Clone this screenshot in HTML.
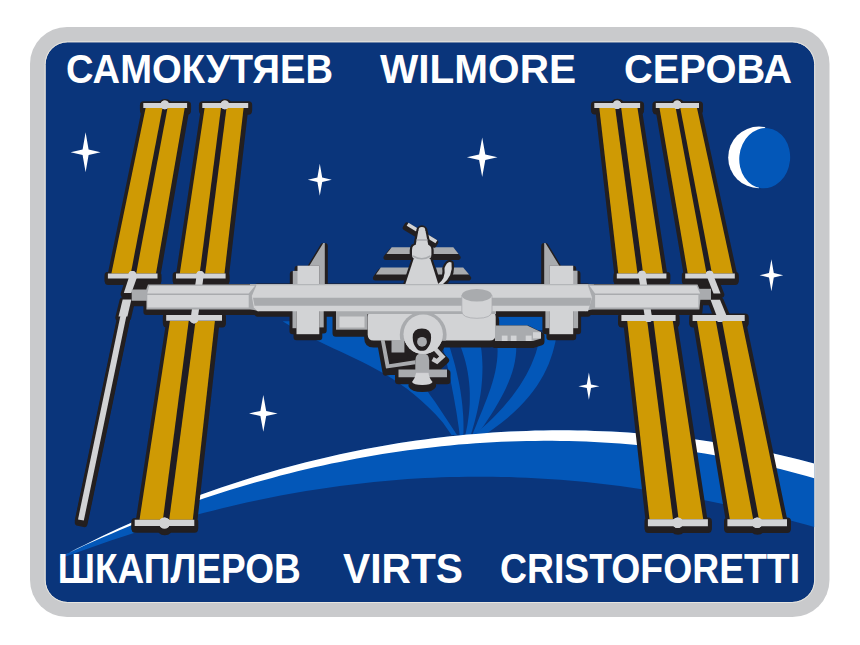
<!DOCTYPE html>
<html><head><meta charset="utf-8"><title>Expedition 42</title>
<style>
html,body{margin:0;padding:0;background:#fff;}
svg{display:block}
text{font-family:"Liberation Sans",sans-serif;font-weight:bold;fill:#fff}
</style></head><body>
<svg width="860" height="645" viewBox="0 0 860 645">
<rect width="860" height="645" fill="#fff"/>
<rect x="30" y="27" width="799.5" height="590" rx="37" fill="#c9cacc"/>
<rect x="45.6" y="42.3" width="768.6" height="559.7" rx="22" fill="#0a357b"/>
<rect x="45.1" y="41.8" width="769.6" height="560.7" rx="22.5" fill="none" stroke="#e6e5e0" stroke-width="1"/>
<clipPath id="inner"><rect x="45.6" y="42.3" width="768.6" height="559.7" rx="22"/></clipPath>
<g clip-path="url(#inner)">
<path d="M282.6,321.3 L289.9,325.7 L297.2,330.0 L304.5,334.1 L311.8,337.9 L319.1,341.6 L326.3,345.1 L333.6,348.5 L340.9,351.8 L348.2,355.2 L355.5,358.7 L362.8,362.2 L370.1,365.9 L377.4,369.9 L384.7,374.0 L392.0,378.5 L399.3,383.4 L406.6,388.6 L413.8,394.3 L421.1,400.5 L428.4,407.3 L435.7,414.6 L443.0,422.7 L451.5,435.0 L457.0,435.0 L444.8,416.4 L435.0,401.7 L430.0,395.0 L426.5,389.5 L418.0,372.0 L447.0,345.0 L447.0,321.3 L282.6,321.3Z" fill="#0357b8"/>
<path d="M441.1,340.0 L442.4,345.1 L443.6,350.1 L444.9,355.2 L446.1,360.2 L447.2,365.3 L448.4,370.3 L449.5,375.4 L450.5,380.4 L451.6,385.5 L452.5,390.5 L453.5,395.6 L454.4,400.6 L455.3,405.7 L456.2,410.7 L457.0,415.8 L457.7,420.8 L458.5,425.9 L459.2,430.9 L459.8,436.0 L463.3,436.0 L463.5,430.9 L463.5,425.9 L463.4,420.8 L463.2,415.8 L462.8,410.7 L462.4,405.7 L461.8,400.6 L461.1,395.6 L460.4,390.5 L459.5,385.5 L458.5,380.4 L457.4,375.4 L456.2,370.3 L455.0,365.3 L453.6,360.2 L452.1,355.2 L450.6,350.1 L448.9,345.1 L447.2,340.0Z" fill="#0357b8"/>
<path d="M455.8,335.0 L458.2,340.3 L460.3,345.6 L462.2,350.9 L463.9,356.3 L465.4,361.6 L466.7,366.9 L467.7,372.2 L468.5,377.5 L469.1,382.8 L469.6,388.2 L469.8,393.5 L469.8,398.8 L469.7,404.1 L469.3,409.4 L468.8,414.7 L468.1,420.1 L467.3,425.4 L466.2,430.7 L465.1,436.0 L470.4,436.0 L472.1,430.7 L473.6,425.4 L475.1,420.1 L476.4,414.7 L477.6,409.4 L478.7,404.1 L479.7,398.8 L480.6,393.5 L481.3,388.2 L481.8,382.8 L482.2,377.5 L482.4,372.2 L482.5,366.9 L482.3,361.6 L482.0,356.3 L481.5,350.9 L480.8,345.6 L479.8,340.3 L478.6,335.0Z" fill="#0357b8"/>
<path d="M495.9,335.0 L496.9,340.3 L497.4,345.6 L497.6,350.9 L497.4,356.3 L496.9,361.6 L496.1,366.9 L495.1,372.2 L493.8,377.5 L492.3,382.8 L490.6,388.2 L488.7,393.5 L486.8,398.8 L484.7,404.1 L482.6,409.4 L480.4,414.7 L478.2,420.1 L476.1,425.4 L473.9,430.7 L471.9,436.0 L476.3,436.0 L480.1,430.7 L483.9,425.4 L487.5,420.1 L491.0,414.7 L494.3,409.4 L497.5,404.1 L500.5,398.8 L503.3,393.5 L505.9,388.2 L508.3,382.8 L510.4,377.5 L512.2,372.2 L513.7,366.9 L514.9,361.6 L515.7,356.3 L516.2,350.9 L516.3,345.6 L516.0,340.3 L515.4,335.0Z" fill="#0357b8"/>
<path d="M540.4,332.0 L539.6,337.4 L538.6,342.7 L537.3,348.1 L535.7,353.5 L533.7,358.8 L531.5,364.2 L529.0,369.6 L526.2,374.9 L523.1,380.3 L519.7,385.7 L516.0,391.1 L512.0,396.4 L507.7,401.8 L503.1,407.2 L498.2,412.5 L492.9,417.9 L487.4,423.3 L481.5,428.6 L475.4,434.0 L486.1,434.0 L493.8,428.6 L500.9,423.3 L507.5,417.9 L513.6,412.5 L519.1,407.2 L524.3,401.8 L528.9,396.4 L533.2,391.1 L537.0,385.7 L540.4,380.3 L543.5,374.9 L546.2,369.6 L548.6,364.2 L550.6,358.8 L552.4,353.5 L553.9,348.1 L555.2,342.7 L556.2,337.4 L557.0,332.0Z" fill="#0357b8"/>
<path d="M496.0,317.0 L546.0,317.0 L546.0,330.0 L496.0,330.0Z" fill="#0357b8"/>
<path d="M325.0,315.0 L338.0,315.0 L338.0,324.0 L325.0,324.0Z" fill="#0357b8"/>
<path d="M60.0,557.4 L68.5,553.0 L77.0,548.6 L85.4,544.4 L93.9,540.2 L102.4,536.1 L110.9,532.1 L119.4,528.1 L127.9,524.3 L136.3,520.6 L144.8,516.9 L153.3,513.3 L161.8,509.8 L170.3,506.4 L178.8,503.0 L187.2,499.8 L195.7,496.6 L204.2,493.5 L212.7,490.5 L221.2,487.5 L229.7,484.7 L238.1,481.9 L246.6,479.2 L255.1,476.5 L263.6,474.0 L272.1,471.5 L280.6,469.1 L289.0,466.7 L297.5,464.5 L306.0,462.3 L314.5,460.2 L323.0,458.2 L331.5,456.2 L339.9,454.3 L348.4,452.5 L356.9,450.8 L365.4,449.1 L373.9,447.5 L382.4,446.0 L390.8,444.5 L399.3,443.1 L407.8,441.8 L416.3,440.6 L424.8,439.4 L433.3,438.3 L441.7,437.3 L450.2,436.3 L458.7,435.4 L467.2,434.6 L475.7,433.9 L484.2,433.2 L492.6,432.6 L501.1,432.0 L509.6,431.6 L518.1,431.2 L526.6,430.9 L535.1,430.6 L543.5,430.4 L552.0,430.3 L560.5,430.3 L569.0,430.3 L577.5,430.4 L586.0,430.6 L594.4,430.9 L602.9,431.2 L611.4,431.6 L619.9,432.0 L628.4,432.6 L636.9,433.2 L645.3,433.9 L653.8,434.7 L662.3,435.5 L670.8,436.4 L679.3,437.4 L687.8,438.4 L696.2,439.6 L704.7,440.8 L713.2,442.1 L721.7,443.5 L730.2,444.9 L738.7,446.4 L747.1,448.0 L755.6,449.7 L764.1,451.5 L772.6,453.3 L781.1,455.2 L789.6,457.2 L798.0,459.3 L806.5,461.5 L815.0,463.7 L815.0,527.2 L806.5,524.8 L798.0,522.5 L789.6,520.2 L781.1,518.0 L772.6,515.8 L764.1,513.7 L755.6,511.6 L747.1,509.6 L738.7,507.6 L730.2,505.7 L721.7,503.8 L713.2,502.0 L704.7,500.3 L696.2,498.6 L687.8,496.9 L679.3,495.4 L670.8,493.8 L662.3,492.4 L653.8,491.0 L645.3,489.7 L636.9,488.4 L628.4,487.2 L619.9,486.0 L611.4,485.0 L602.9,483.9 L594.4,483.0 L586.0,482.1 L577.5,481.3 L569.0,480.5 L560.5,479.8 L552.0,479.2 L543.5,478.7 L535.1,478.2 L526.6,477.7 L518.1,477.4 L509.6,477.1 L501.1,476.9 L492.6,476.8 L484.2,476.7 L475.7,476.7 L467.2,476.7 L458.7,476.9 L450.2,477.1 L441.7,477.3 L433.3,477.7 L424.8,478.1 L416.3,478.6 L407.8,479.1 L399.3,479.7 L390.8,480.4 L382.4,481.2 L373.9,482.0 L365.4,482.9 L356.9,483.9 L348.4,484.9 L339.9,486.0 L331.5,487.2 L323.0,488.4 L314.5,489.7 L306.0,491.1 L297.5,492.6 L289.0,494.1 L280.6,495.6 L272.1,497.3 L263.6,499.0 L255.1,500.8 L246.6,502.6 L238.1,504.5 L229.7,506.5 L221.2,508.6 L212.7,510.7 L204.2,512.8 L195.7,515.1 L187.2,517.3 L178.8,519.7 L170.3,522.1 L161.8,524.6 L153.3,527.1 L144.8,529.7 L136.3,532.3 L127.9,535.0 L119.4,537.8 L110.9,540.6 L102.4,543.5 L93.9,546.4 L85.4,549.4 L77.0,552.4 L68.5,555.5 L60.0,558.6Z" fill="#0357b8"/>
<path d="M60.0,557.4 L68.5,553.0 L77.0,548.6 L85.4,544.4 L93.9,540.2 L102.4,536.1 L110.9,532.1 L119.4,528.1 L127.9,524.3 L136.3,520.6 L144.8,516.9 L153.3,513.3 L161.8,509.8 L170.3,506.4 L178.8,503.0 L187.2,499.8 L195.7,496.6 L204.2,493.5 L212.7,490.5 L221.2,487.5 L229.7,484.7 L238.1,481.9 L246.6,479.2 L255.1,476.5 L263.6,474.0 L272.1,471.5 L280.6,469.1 L289.0,466.7 L297.5,464.5 L306.0,462.3 L314.5,460.2 L323.0,458.2 L331.5,456.2 L339.9,454.3 L348.4,452.5 L356.9,450.8 L365.4,449.1 L373.9,447.5 L382.4,446.0 L390.8,444.5 L399.3,443.1 L407.8,441.8 L416.3,440.6 L424.8,439.4 L433.3,438.3 L441.7,437.3 L450.2,436.3 L458.7,435.4 L467.2,434.6 L475.7,433.9 L484.2,433.2 L492.6,432.6 L501.1,432.0 L509.6,431.6 L518.1,431.2 L526.6,430.9 L535.1,430.6 L543.5,430.4 L552.0,430.3 L560.5,430.3 L569.0,430.3 L577.5,430.4 L586.0,430.6 L594.4,430.9 L602.9,431.2 L611.4,431.6 L619.9,432.0 L628.4,432.6 L636.9,433.2 L645.3,433.9 L653.8,434.7 L662.3,435.5 L670.8,436.4 L679.3,437.4 L687.8,438.4 L696.2,439.6 L704.7,440.8 L713.2,442.1 L721.7,443.5 L730.2,444.9 L738.7,446.4 L747.1,448.0 L755.6,449.7 L764.1,451.5 L772.6,453.3 L781.1,455.2 L789.6,457.2 L798.0,459.3 L806.5,461.5 L815.0,463.7 L815.0,478.4 L806.5,476.0 L798.0,473.7 L789.6,471.5 L781.1,469.3 L772.6,467.3 L764.1,465.3 L755.6,463.4 L747.1,461.6 L738.7,459.8 L730.2,458.2 L721.7,456.6 L713.2,455.1 L704.7,453.6 L696.2,452.3 L687.8,451.0 L679.3,449.8 L670.8,448.7 L662.3,447.6 L653.8,446.7 L645.3,445.8 L636.9,445.0 L628.4,444.2 L619.9,443.5 L611.4,442.9 L602.9,442.4 L594.4,442.0 L586.0,441.6 L577.5,441.3 L569.0,441.1 L560.5,440.9 L552.0,440.8 L543.5,440.8 L535.1,440.9 L526.6,441.0 L518.1,441.2 L509.6,441.5 L501.1,441.8 L492.6,442.2 L484.2,442.7 L475.7,443.3 L467.2,443.9 L458.7,444.6 L450.2,445.4 L441.7,446.3 L433.3,447.2 L424.8,448.2 L416.3,449.2 L407.8,450.3 L399.3,451.5 L390.8,452.8 L382.4,454.1 L373.9,455.5 L365.4,457.0 L356.9,458.6 L348.4,460.2 L339.9,461.9 L331.5,463.6 L323.0,465.4 L314.5,467.3 L306.0,469.3 L297.5,471.3 L289.0,473.4 L280.6,475.6 L272.1,477.9 L263.6,480.2 L255.1,482.6 L246.6,485.0 L238.1,487.5 L229.7,490.1 L221.2,492.8 L212.7,495.5 L204.2,498.3 L195.7,501.2 L187.2,504.2 L178.8,507.2 L170.3,510.3 L161.8,513.4 L153.3,516.7 L144.8,520.0 L136.3,523.3 L127.9,526.8 L119.4,530.3 L110.9,533.9 L102.4,537.6 L93.9,541.3 L85.4,545.1 L77.0,549.0 L68.5,553.0 L60.0,557.0Z" fill="#fff"/>
<path d="M85.6,132.3 L88.6,149.6 L100.6,152.3 L88.6,155.0 L85.6,172.3 L82.6,155.0 L70.6,152.3 L82.6,149.6Z" fill="#fff"/>
<path d="M319.8,163.7 L322.2,177.5 L331.8,179.7 L322.2,181.9 L319.8,195.7 L317.4,181.9 L307.8,179.7 L317.4,177.5Z" fill="#fff"/>
<path d="M482.2,137.5 L485.3,154.6 L497.5,157.3 L485.3,160.0 L482.2,177.1 L479.1,160.0 L466.9,157.3 L479.1,154.6Z" fill="#fff"/>
<path d="M771.4,259.3 L773.8,273.1 L783.2,275.3 L773.8,277.5 L771.4,291.3 L769.0,277.5 L759.6,275.3 L769.0,273.1Z" fill="#fff"/>
<path d="M263.3,395.0 L266.2,410.9 L277.6,413.4 L266.2,415.9 L263.3,431.8 L260.4,415.9 L249.0,413.4 L260.4,410.9Z" fill="#fff"/>
<path d="M588.9,372.6 L591.0,384.4 L599.4,386.2 L591.0,388.0 L588.9,399.8 L586.8,388.0 L578.4,386.2 L586.8,384.4Z" fill="#fff"/>
<clipPath id="mc"><rect x="720" y="120" width="42" height="80" transform="rotate(6 762 158)"/></clipPath>
<circle cx="759" cy="157.4" r="30.8" fill="#fff" clip-path="url(#mc)"/>
<ellipse cx="764.7" cy="158.2" rx="25.4" ry="30.2" fill="#0357b8" transform="rotate(6 764.7 158.2)"/>
<path d="M120.9,313.4 L78.0,519.4 L83.8,520.6 L126.7,314.6Z" fill="#231f20" stroke="#231f20" stroke-width="7" stroke-linejoin="round" transform="translate(0.3,3)"/>
<path d="M129.7,275.0 L137.8,275.0 L131.4,293.0 L123.8,293.0Z M122.7,299.5 L131.4,299.5 L127.4,316.5 L118.5,316.5Z M120.9,313.4 L78.0,519.4 L83.8,520.6 L126.7,314.6Z M196.7,274.5 L190.7,318.0 L197.7,319.0 L203.7,275.5Z M638.5,275.5 L645.0,318.5 L652.0,317.5 L645.5,274.5Z M706.3,275.0 L713.3,275.0 L720.5,293.5 L713.5,293.5Z M710.5,299.8 L720.0,299.8 L727.5,318.0 L717.5,318.0Z" fill="#231f20" stroke="#231f20" stroke-width="7" stroke-linejoin="round" transform="translate(0.3,1)"/>
<path d="M143.3,102.9 L187.1,102.9 L187.1,108.0 L143.3,108.0Z M107.9,273.4 L157.5,273.4 L157.5,278.4 L107.9,278.4Z M160.5,104.9a4.3,4.3 0 1,0 8.6,0a4.3,4.3 0 1,0 -8.6,0Z M128.5,274.9a3.8,3.8 0 1,0 7.6,0a3.8,3.8 0 1,0 -7.6,0Z" fill="#231f20" stroke="#231f20" stroke-width="6.5" stroke-linejoin="round" transform="translate(0.3,3.4)"/>
<path d="M145.1,108.0 L185.2,108.0 L156.5,273.4 L110.9,273.4Z M145.6,108.0 L162.5,108.0 L130.8,273.4 L111.4,273.4Z M167.5,108.0 L184.7,108.0 L156.0,273.4 L136.2,273.4Z M143.3,102.9 L187.1,102.9 L187.1,108.0 L143.3,108.0Z M107.9,273.4 L157.5,273.4 L157.5,278.4 L107.9,278.4Z M160.5,104.9a4.3,4.3 0 1,0 8.6,0a4.3,4.3 0 1,0 -8.6,0Z M128.5,274.9a3.8,3.8 0 1,0 7.6,0a3.8,3.8 0 1,0 -7.6,0Z" fill="#231f20" stroke="#231f20" stroke-width="7.4" stroke-linejoin="round" transform="translate(0.3,2.0)"/>
<path d="M202.3,102.9 L248.2,102.9 L248.2,108.0 L202.3,108.0Z M176.0,273.4 L225.6,273.4 L225.6,278.4 L176.0,278.4Z M220.6,104.9a4.3,4.3 0 1,0 8.6,0a4.3,4.3 0 1,0 -8.6,0Z M196.4,274.9a3.8,3.8 0 1,0 7.6,0a3.8,3.8 0 1,0 -7.6,0Z" fill="#231f20" stroke="#231f20" stroke-width="6.5" stroke-linejoin="round" transform="translate(0.3,3.4)"/>
<path d="M204.1,108.0 L244.1,108.0 L225.0,273.4 L179.3,273.4Z M204.6,108.0 L221.0,108.0 L199.7,273.4 L179.8,273.4Z M226.5,108.0 L243.6,108.0 L224.5,273.4 L205.2,273.4Z M202.3,102.9 L248.2,102.9 L248.2,108.0 L202.3,108.0Z M176.0,273.4 L225.6,273.4 L225.6,278.4 L176.0,278.4Z M220.6,104.9a4.3,4.3 0 1,0 8.6,0a4.3,4.3 0 1,0 -8.6,0Z M196.4,274.9a3.8,3.8 0 1,0 7.6,0a3.8,3.8 0 1,0 -7.6,0Z" fill="#231f20" stroke="#231f20" stroke-width="7.4" stroke-linejoin="round" transform="translate(0.3,2.0)"/>
<path d="M594.3,102.9 L640.1,102.9 L640.1,107.9 L594.3,107.9Z M616.8,273.4 L666.4,273.4 L666.4,278.4 L616.8,278.4Z M612.8,104.7a4.3,4.3 0 1,0 8.6,0a4.3,4.3 0 1,0 -8.6,0Z M638.2,274.6a3.8,3.8 0 1,0 7.6,0a3.8,3.8 0 1,0 -7.6,0Z" fill="#231f20" stroke="#231f20" stroke-width="6.5" stroke-linejoin="round" transform="translate(0.3,3.4)"/>
<path d="M598.8,107.9 L638.0,107.9 L663.4,273.4 L617.8,273.4Z M599.3,107.9 L615.2,107.9 L637.5,273.4 L618.3,273.4Z M621.2,107.9 L637.5,107.9 L662.9,273.4 L643.1,273.4Z M594.3,102.9 L640.1,102.9 L640.1,107.9 L594.3,107.9Z M616.8,273.4 L666.4,273.4 L666.4,278.4 L616.8,278.4Z M612.8,104.7a4.3,4.3 0 1,0 8.6,0a4.3,4.3 0 1,0 -8.6,0Z M638.2,274.6a3.8,3.8 0 1,0 7.6,0a3.8,3.8 0 1,0 -7.6,0Z" fill="#231f20" stroke="#231f20" stroke-width="7.4" stroke-linejoin="round" transform="translate(0.3,2.0)"/>
<path d="M655.8,102.9 L699.0,102.9 L699.0,107.9 L655.8,107.9Z M685.2,273.4 L734.8,273.4 L734.8,278.4 L685.2,278.4Z M672.9,104.7a4.3,4.3 0 1,0 8.6,0a4.3,4.3 0 1,0 -8.6,0Z M705.8,274.6a3.8,3.8 0 1,0 7.6,0a3.8,3.8 0 1,0 -7.6,0Z" fill="#231f20" stroke="#231f20" stroke-width="6.5" stroke-linejoin="round" transform="translate(0.3,3.4)"/>
<path d="M659.0,107.9 L697.5,107.9 L733.3,273.4 L687.2,273.4Z M659.5,107.9 L675.7,107.9 L706.5,273.4 L687.7,273.4Z M680.3,107.9 L697.0,107.9 L732.8,273.4 L711.9,273.4Z M655.8,102.9 L699.0,102.9 L699.0,107.9 L655.8,107.9Z M685.2,273.4 L734.8,273.4 L734.8,278.4 L685.2,278.4Z M672.9,104.7a4.3,4.3 0 1,0 8.6,0a4.3,4.3 0 1,0 -8.6,0Z M705.8,274.6a3.8,3.8 0 1,0 7.6,0a3.8,3.8 0 1,0 -7.6,0Z" fill="#231f20" stroke="#231f20" stroke-width="7.4" stroke-linejoin="round" transform="translate(0.3,2.0)"/>
<path d="M166.2,315.0 L222.0,315.0 L222.0,320.8 L166.2,320.8Z M134.7,519.8 L194.3,519.8 L194.3,526.1 L134.7,526.1Z M189.6,319.0a4.4,4.4 0 1,0 8.8,0a4.4,4.4 0 1,0 -8.8,0Z M158.9,523.0a5.6,5.6 0 1,0 11.2,0a5.6,5.6 0 1,0 -11.2,0Z" fill="#231f20" stroke="#231f20" stroke-width="6.5" stroke-linejoin="round" transform="translate(0.3,3.4)"/>
<path d="M169.4,321.0 L215.4,321.0 L193.3,519.8 L139.0,519.8Z M169.9,321.0 L188.7,321.0 L162.9,519.8 L139.5,519.8Z M195.5,321.0 L214.9,321.0 L192.8,519.8 L169.2,519.8Z M166.2,315.0 L222.0,315.0 L222.0,320.8 L166.2,320.8Z M134.7,519.8 L194.3,519.8 L194.3,526.1 L134.7,526.1Z M189.6,319.0a4.4,4.4 0 1,0 8.8,0a4.4,4.4 0 1,0 -8.8,0Z M158.9,523.0a5.6,5.6 0 1,0 11.2,0a5.6,5.6 0 1,0 -11.2,0Z" fill="#231f20" stroke="#231f20" stroke-width="7.4" stroke-linejoin="round" transform="translate(0.3,2.0)"/>
<path d="M621.4,315.1 L675.6,315.1 L675.6,320.9 L621.4,320.9Z M647.9,519.3 L707.9,519.3 L707.9,526.3 L647.9,526.3Z M644.5,318.0a4.0,4.0 0 1,0 8.0,0a4.0,4.0 0 1,0 -8.0,0Z M672.4,522.8a5.3,5.3 0 1,0 10.6,0a5.3,5.3 0 1,0 -10.6,0Z" fill="#231f20" stroke="#231f20" stroke-width="6.5" stroke-linejoin="round" transform="translate(0.3,3.4)"/>
<path d="M626.7,320.9 L673.3,320.9 L703.7,519.3 L649.0,519.3Z M627.2,320.9 L647.2,320.9 L673.0,519.3 L649.5,519.3Z M653.5,320.9 L672.8,320.9 L703.2,519.3 L678.6,519.3Z M621.4,315.1 L675.6,315.1 L675.6,320.9 L621.4,320.9Z M647.9,519.3 L707.9,519.3 L707.9,526.3 L647.9,526.3Z M644.5,318.0a4.0,4.0 0 1,0 8.0,0a4.0,4.0 0 1,0 -8.0,0Z M672.4,522.8a5.3,5.3 0 1,0 10.6,0a5.3,5.3 0 1,0 -10.6,0Z" fill="#231f20" stroke="#231f20" stroke-width="7.4" stroke-linejoin="round" transform="translate(0.3,2.0)"/>
<path d="M692.6,315.1 L744.7,315.1 L744.7,320.9 L692.6,320.9Z M727.4,519.3 L787.0,519.3 L787.0,526.3 L727.4,526.3Z M716.0,318.0a4.0,4.0 0 1,0 8.0,0a4.0,4.0 0 1,0 -8.0,0Z M751.9,522.8a5.3,5.3 0 1,0 10.6,0a5.3,5.3 0 1,0 -10.6,0Z" fill="#231f20" stroke="#231f20" stroke-width="6.5" stroke-linejoin="round" transform="translate(0.3,3.4)"/>
<path d="M696.5,320.9 L742.3,320.9 L783.5,519.3 L729.3,519.3Z M697.0,320.9 L715.8,320.9 L753.2,519.3 L729.8,519.3Z M722.1,320.9 L741.8,320.9 L783.0,519.3 L758.9,519.3Z M692.6,315.1 L744.7,315.1 L744.7,320.9 L692.6,320.9Z M727.4,519.3 L787.0,519.3 L787.0,526.3 L727.4,526.3Z M716.0,318.0a4.0,4.0 0 1,0 8.0,0a4.0,4.0 0 1,0 -8.0,0Z M751.9,522.8a5.3,5.3 0 1,0 10.6,0a5.3,5.3 0 1,0 -10.6,0Z" fill="#231f20" stroke="#231f20" stroke-width="7.4" stroke-linejoin="round" transform="translate(0.3,2.0)"/>
<path d="M391.7,247.3 L416.5,247.3 L412.5,254.0 L386.4,254.0Z M429.4,247.3 L453.3,247.3 L458.6,254.0 L431.0,254.0Z M380.8,267.5 L410.0,267.5 L407.0,274.5 L375.9,274.5Z M436.0,267.5 L463.2,267.5 L469.1,274.5 L438.0,274.5Z" fill="#231f20" stroke="#231f20" stroke-width="5" stroke-linejoin="round" transform="translate(-0.5,3.5)"/>
<path d="M309.4,265.7 L323.3,242.9 L324.8,242.9 L324.8,284.0 L319.3,284.0 L319.3,265.7Z M292.8,270.9 L298.0,270.9 L298.0,284.0 L292.8,284.0Z M297.5,265.7 L319.3,265.7 L319.3,284.0 L297.5,284.0Z M559.3,265.7 L545.4,242.9 L544.2,242.9 L544.2,284.0 L549.4,284.0 L549.4,265.7Z M573.0,270.7 L577.5,270.7 L577.5,284.0 L573.0,284.0Z M549.4,265.7 L573.2,265.7 L573.2,284.0 L549.4,284.0Z M292.5,311.0 L296.5,311.0 L296.5,328.2 L292.5,328.2Z M319.3,311.0 L323.7,311.0 L323.7,327.4 L319.3,327.4Z M296.5,311.0 L319.3,311.0 L319.3,334.2 L296.5,334.2Z M545.4,311.0 L549.4,311.0 L549.4,328.2 L545.4,328.2Z M573.2,311.0 L578.1,311.0 L578.1,328.2 L573.2,328.2Z M549.4,311.0 L573.2,311.0 L573.2,334.2 L549.4,334.2Z" fill="#231f20" stroke="#231f20" stroke-width="6" stroke-linejoin="round" transform="translate(0,3)"/>
<path d="M131.7,289.4 L147.0,289.4 L147.0,300.7 L131.7,300.7Z M698.4,288.8 L711.0,288.8 L711.0,299.8 L698.4,299.8Z M148.0,284.6 L256.0,284.6 L256.0,309.6 L146.4,309.6 L146.4,289.0Z M588.0,284.6 L697.5,284.6 L701.0,292.5 L699.4,309.4 L588.0,309.4Z M257.0,284.0 L587.5,284.0 L592.0,297.5 L588.0,311.3 L257.5,311.3 L253.8,307.4 L251.8,296.0Z M697.0,281.0 L712.0,281.0 L716.0,292.0 L700.0,292.0Z M135.0,281.0 L148.0,281.0 L148.0,290.0 L131.5,290.0Z" fill="#231f20" stroke="#231f20" stroke-width="6" stroke-linejoin="round" transform="translate(0,2.5)"/>
<path d="M336.0,311.0 L367.5,311.0 L367.5,329.7 L336.0,329.7Z M339.5,316.5 L364.5,316.5 L364.5,327.5 L339.5,327.5Z M373.7,311 L489.7,311 Q495.7,311 495.7,317 L495.7,334.6 Q495.7,340.6 489.7,340.6 L373.7,340.6 Q367.7,340.6 367.7,334.6 L367.7,317 Q367.7,311 373.7,311Z M495.0,325.4 L527.2,325.4 L541.0,332.1 L541.0,338.4 L533.0,341.0 L495.0,341.0Z M380.8,340.0 L384.6,340.0 L389.3,364.3 L415.0,360.3 L415.6,364.3 L386.0,368.6Z M391.5,340.0 L404.4,340.0 L404.4,352.5 L391.5,352.5Z M433.2,350.1 L439.2,356.6 L436.7,358.8 L433.7,357.1 L431.5,360.9 L437.3,364.2 L445.6,356.8 L436.4,347.1Z M398.5,369.4 L447.0,369.4 L447.0,377.3 L398.5,377.3Z M403.5,334.2a19.7,19.7 0 1,0 39.4,0a19.7,19.7 0 1,0 -39.4,0Z M415.3,376 L415.3,360.5 Q415.3,353.3 422.3,353.3 Q429.2,353.3 429.2,360.5 L429.2,376Z M416,373.3 L428.5,373.3 Q429.5,379 432.6,382 Q431,385 422.3,385 Q413.5,385 412,382 Q415,379 416,373.3Z M384.0,341.0 L415.0,341.0 L415.0,362.0 L388.0,366.0Z" fill="#231f20" stroke="#231f20" stroke-width="7" stroke-linejoin="round" transform="translate(0,3.5)"/>
<path d="M145.1,108.0 L185.2,108.0 L156.5,273.4 L110.9,273.4Z" fill="#1f1c24"/>
<path d="M145.6,108.0 L162.5,108.0 L130.8,273.4 L111.4,273.4Z" fill="#cf9a04"/>
<path d="M167.5,108.0 L184.7,108.0 L156.0,273.4 L136.2,273.4Z" fill="#cf9a04"/>
<path d="M143.3,102.9 L187.1,102.9 L187.1,108.0 L143.3,108.0Z" fill="#d2d3d5"/>
<path d="M107.9,273.4 L157.5,273.4 L157.5,278.4 L107.9,278.4Z" fill="#d2d3d5"/>
<path d="M160.5,104.9a4.3,4.3 0 1,0 8.6,0a4.3,4.3 0 1,0 -8.6,0Z" fill="#d2d3d5"/>
<path d="M128.5,274.9a3.8,3.8 0 1,0 7.6,0a3.8,3.8 0 1,0 -7.6,0Z" fill="#d2d3d5"/>
<path d="M204.1,108.0 L244.1,108.0 L225.0,273.4 L179.3,273.4Z" fill="#1f1c24"/>
<path d="M204.6,108.0 L221.0,108.0 L199.7,273.4 L179.8,273.4Z" fill="#cf9a04"/>
<path d="M226.5,108.0 L243.6,108.0 L224.5,273.4 L205.2,273.4Z" fill="#cf9a04"/>
<path d="M202.3,102.9 L248.2,102.9 L248.2,108.0 L202.3,108.0Z" fill="#d2d3d5"/>
<path d="M176.0,273.4 L225.6,273.4 L225.6,278.4 L176.0,278.4Z" fill="#d2d3d5"/>
<path d="M220.6,104.9a4.3,4.3 0 1,0 8.6,0a4.3,4.3 0 1,0 -8.6,0Z" fill="#d2d3d5"/>
<path d="M196.4,274.9a3.8,3.8 0 1,0 7.6,0a3.8,3.8 0 1,0 -7.6,0Z" fill="#d2d3d5"/>
<path d="M598.8,107.9 L638.0,107.9 L663.4,273.4 L617.8,273.4Z" fill="#1f1c24"/>
<path d="M599.3,107.9 L615.2,107.9 L637.5,273.4 L618.3,273.4Z" fill="#cf9a04"/>
<path d="M621.2,107.9 L637.5,107.9 L662.9,273.4 L643.1,273.4Z" fill="#cf9a04"/>
<path d="M594.3,102.9 L640.1,102.9 L640.1,107.9 L594.3,107.9Z" fill="#d2d3d5"/>
<path d="M616.8,273.4 L666.4,273.4 L666.4,278.4 L616.8,278.4Z" fill="#d2d3d5"/>
<path d="M612.8,104.7a4.3,4.3 0 1,0 8.6,0a4.3,4.3 0 1,0 -8.6,0Z" fill="#d2d3d5"/>
<path d="M638.2,274.6a3.8,3.8 0 1,0 7.6,0a3.8,3.8 0 1,0 -7.6,0Z" fill="#d2d3d5"/>
<path d="M659.0,107.9 L697.5,107.9 L733.3,273.4 L687.2,273.4Z" fill="#1f1c24"/>
<path d="M659.5,107.9 L675.7,107.9 L706.5,273.4 L687.7,273.4Z" fill="#cf9a04"/>
<path d="M680.3,107.9 L697.0,107.9 L732.8,273.4 L711.9,273.4Z" fill="#cf9a04"/>
<path d="M655.8,102.9 L699.0,102.9 L699.0,107.9 L655.8,107.9Z" fill="#d2d3d5"/>
<path d="M685.2,273.4 L734.8,273.4 L734.8,278.4 L685.2,278.4Z" fill="#d2d3d5"/>
<path d="M672.9,104.7a4.3,4.3 0 1,0 8.6,0a4.3,4.3 0 1,0 -8.6,0Z" fill="#d2d3d5"/>
<path d="M705.8,274.6a3.8,3.8 0 1,0 7.6,0a3.8,3.8 0 1,0 -7.6,0Z" fill="#d2d3d5"/>
<path d="M169.4,321.0 L215.4,321.0 L193.3,519.8 L139.0,519.8Z" fill="#1f1c24"/>
<path d="M169.9,321.0 L188.7,321.0 L162.9,519.8 L139.5,519.8Z" fill="#cf9a04"/>
<path d="M195.5,321.0 L214.9,321.0 L192.8,519.8 L169.2,519.8Z" fill="#cf9a04"/>
<path d="M166.2,315.0 L222.0,315.0 L222.0,320.8 L166.2,320.8Z" fill="#d2d3d5"/>
<path d="M134.7,519.8 L194.3,519.8 L194.3,526.1 L134.7,526.1Z" fill="#d2d3d5"/>
<path d="M189.6,319.0a4.4,4.4 0 1,0 8.8,0a4.4,4.4 0 1,0 -8.8,0Z" fill="#d2d3d5"/>
<path d="M158.9,523.0a5.6,5.6 0 1,0 11.2,0a5.6,5.6 0 1,0 -11.2,0Z" fill="#d2d3d5"/>
<path d="M626.7,320.9 L673.3,320.9 L703.7,519.3 L649.0,519.3Z" fill="#1f1c24"/>
<path d="M627.2,320.9 L647.2,320.9 L673.0,519.3 L649.5,519.3Z" fill="#cf9a04"/>
<path d="M653.5,320.9 L672.8,320.9 L703.2,519.3 L678.6,519.3Z" fill="#cf9a04"/>
<path d="M621.4,315.1 L675.6,315.1 L675.6,320.9 L621.4,320.9Z" fill="#d2d3d5"/>
<path d="M647.9,519.3 L707.9,519.3 L707.9,526.3 L647.9,526.3Z" fill="#d2d3d5"/>
<path d="M644.5,318.0a4.0,4.0 0 1,0 8.0,0a4.0,4.0 0 1,0 -8.0,0Z" fill="#d2d3d5"/>
<path d="M672.4,522.8a5.3,5.3 0 1,0 10.6,0a5.3,5.3 0 1,0 -10.6,0Z" fill="#d2d3d5"/>
<path d="M696.5,320.9 L742.3,320.9 L783.5,519.3 L729.3,519.3Z" fill="#1f1c24"/>
<path d="M697.0,320.9 L715.8,320.9 L753.2,519.3 L729.8,519.3Z" fill="#cf9a04"/>
<path d="M722.1,320.9 L741.8,320.9 L783.0,519.3 L758.9,519.3Z" fill="#cf9a04"/>
<path d="M692.6,315.1 L744.7,315.1 L744.7,320.9 L692.6,320.9Z" fill="#d2d3d5"/>
<path d="M727.4,519.3 L787.0,519.3 L787.0,526.3 L727.4,526.3Z" fill="#d2d3d5"/>
<path d="M716.0,318.0a4.0,4.0 0 1,0 8.0,0a4.0,4.0 0 1,0 -8.0,0Z" fill="#d2d3d5"/>
<path d="M751.9,522.8a5.3,5.3 0 1,0 10.6,0a5.3,5.3 0 1,0 -10.6,0Z" fill="#d2d3d5"/>
<path d="M129.7,275.0 L137.8,275.0 L131.4,293.0 L123.8,293.0Z" fill="#d2d3d5"/>
<path d="M122.7,299.5 L131.4,299.5 L127.4,316.5 L118.5,316.5Z" fill="#d2d3d5"/>
<path d="M120.9,313.4 L78.0,519.4 L83.8,520.6 L126.7,314.6Z" fill="#d2d3d5"/>
<path d="M196.7,274.5 L190.7,318.0 L197.7,319.0 L203.7,275.5Z" fill="#d2d3d5"/>
<path d="M638.5,275.5 L645.0,318.5 L652.0,317.5 L645.5,274.5Z" fill="#d2d3d5"/>
<path d="M706.3,275.0 L713.3,275.0 L720.5,293.5 L713.5,293.5Z" fill="#d2d3d5"/>
<path d="M710.5,299.8 L720.0,299.8 L727.5,318.0 L717.5,318.0Z" fill="#d2d3d5"/>
<path d="M160.5,104.9a4.3,4.3 0 1,0 8.6,0a4.3,4.3 0 1,0 -8.6,0Z" fill="#d2d3d5"/>
<path d="M128.5,274.9a3.8,3.8 0 1,0 7.6,0a3.8,3.8 0 1,0 -7.6,0Z" fill="#d2d3d5"/>
<path d="M220.6,104.9a4.3,4.3 0 1,0 8.6,0a4.3,4.3 0 1,0 -8.6,0Z" fill="#d2d3d5"/>
<path d="M196.4,274.9a3.8,3.8 0 1,0 7.6,0a3.8,3.8 0 1,0 -7.6,0Z" fill="#d2d3d5"/>
<path d="M612.8,104.7a4.3,4.3 0 1,0 8.6,0a4.3,4.3 0 1,0 -8.6,0Z" fill="#d2d3d5"/>
<path d="M638.2,274.6a3.8,3.8 0 1,0 7.6,0a3.8,3.8 0 1,0 -7.6,0Z" fill="#d2d3d5"/>
<path d="M672.9,104.7a4.3,4.3 0 1,0 8.6,0a4.3,4.3 0 1,0 -8.6,0Z" fill="#d2d3d5"/>
<path d="M705.8,274.6a3.8,3.8 0 1,0 7.6,0a3.8,3.8 0 1,0 -7.6,0Z" fill="#d2d3d5"/>
<path d="M189.6,319.0a4.4,4.4 0 1,0 8.8,0a4.4,4.4 0 1,0 -8.8,0Z" fill="#d2d3d5"/>
<path d="M158.9,523.0a5.6,5.6 0 1,0 11.2,0a5.6,5.6 0 1,0 -11.2,0Z" fill="#d2d3d5"/>
<path d="M644.5,318.0a4.0,4.0 0 1,0 8.0,0a4.0,4.0 0 1,0 -8.0,0Z" fill="#d2d3d5"/>
<path d="M672.4,522.8a5.3,5.3 0 1,0 10.6,0a5.3,5.3 0 1,0 -10.6,0Z" fill="#d2d3d5"/>
<path d="M716.0,318.0a4.0,4.0 0 1,0 8.0,0a4.0,4.0 0 1,0 -8.0,0Z" fill="#d2d3d5"/>
<path d="M751.9,522.8a5.3,5.3 0 1,0 10.6,0a5.3,5.3 0 1,0 -10.6,0Z" fill="#d2d3d5"/>
<path d="M391.7,247.3 L416.5,247.3 L412.5,254.0 L386.4,254.0Z" fill="#a9abae"/>
<path d="M429.4,247.3 L453.3,247.3 L458.6,254.0 L431.0,254.0Z" fill="#a9abae"/>
<path d="M380.8,267.5 L410.0,267.5 L407.0,274.5 L375.9,274.5Z" fill="#a9abae"/>
<path d="M436.0,267.5 L463.2,267.5 L469.1,274.5 L438.0,274.5Z" fill="#a9abae"/>
<path d="M406.7,225.8 L435.5,243.2 L437.3,240.2 L408.5,222.8Z" fill="#231f20" stroke="#231f20" stroke-width="5" stroke-linejoin="round" transform="translate(-1.5,2)"/>
<path d="M406.7,225.8 L435.5,243.2 L437.3,240.2 L408.5,222.8Z" fill="#d2d3d5"/>
<path d="M418.5,230.5a3.4,3.4 0 1,0 6.8,0a3.4,3.4 0 1,0 -6.8,0Z M418.3,231.0 L425.5,231.0 L428.5,246.0 L415.5,246.0Z M417,244.7 L426.4,244.7 Q431.4,244.7 431.4,249.7 L431.4,254.60000000000002 Q431.4,259.6 426.4,259.6 L417,259.6 Q412,259.6 412,254.60000000000002 L412,249.7 Q412,244.7 417,244.7Z M413.6,259.0 L430.4,259.0 L438.4,284.5 L405.2,284.5Z M437.5,284.5 Q446,279 444.5,268 Q447.5,260 451.5,262.5 Q453.5,276 442.5,284.5Z" fill="#231f20" stroke="#231f20" stroke-width="4.6" stroke-linejoin="round" transform="translate(0,0.5)"/>
<path d="M418.5,230.5a3.4,3.4 0 1,0 6.8,0a3.4,3.4 0 1,0 -6.8,0Z" fill="#d2d3d5"/>
<path d="M418.3,231.0 L425.5,231.0 L428.5,246.0 L415.5,246.0Z" fill="#d2d3d5"/>
<path d="M417,244.7 L426.4,244.7 Q431.4,244.7 431.4,249.7 L431.4,254.60000000000002 Q431.4,259.6 426.4,259.6 L417,259.6 Q412,259.6 412,254.60000000000002 L412,249.7 Q412,244.7 417,244.7Z" fill="#d2d3d5"/>
<path d="M413.6,259.0 L430.4,259.0 L438.4,284.5 L405.2,284.5Z" fill="#d2d3d5"/>
<path d="M437.5,284.5 Q446,279 444.5,268 Q447.5,260 451.5,262.5 Q453.5,276 442.5,284.5Z" fill="#d8d9db"/>
<path d="M416.5,240 L427.5,240 M413,256 Q421.7,261.5 430.5,256" stroke="#a9abae" stroke-width="1.6" fill="none"/>
<path d="M309.4,265.7 L323.3,242.9 L324.8,242.9 L324.8,284.0 L319.3,284.0 L319.3,265.7Z" fill="#a9abae"/>
<path d="M292.8,270.9 L298.0,270.9 L298.0,284.0 L292.8,284.0Z" fill="#a9abae"/>
<path d="M297.5,265.7 L319.3,265.7 L319.3,284.0 L297.5,284.0Z" fill="#d2d3d5"/>
<path d="M559.3,265.7 L545.4,242.9 L544.2,242.9 L544.2,284.0 L549.4,284.0 L549.4,265.7Z" fill="#a9abae"/>
<path d="M573.0,270.7 L577.5,270.7 L577.5,284.0 L573.0,284.0Z" fill="#a9abae"/>
<path d="M549.4,265.7 L573.2,265.7 L573.2,284.0 L549.4,284.0Z" fill="#d2d3d5"/>
<path d="M292.5,311.0 L296.5,311.0 L296.5,328.2 L292.5,328.2Z" fill="#a9abae"/>
<path d="M319.3,311.0 L323.7,311.0 L323.7,327.4 L319.3,327.4Z" fill="#a9abae"/>
<path d="M296.5,311.0 L319.3,311.0 L319.3,334.2 L296.5,334.2Z" fill="#d2d3d5"/>
<path d="M545.4,311.0 L549.4,311.0 L549.4,328.2 L545.4,328.2Z" fill="#a9abae"/>
<path d="M573.2,311.0 L578.1,311.0 L578.1,328.2 L573.2,328.2Z" fill="#a9abae"/>
<path d="M549.4,311.0 L573.2,311.0 L573.2,334.2 L549.4,334.2Z" fill="#d2d3d5"/>
<path d="M336.0,311.0 L367.5,311.0 L367.5,329.7 L336.0,329.7Z" fill="#a9abae"/>
<path d="M339.5,316.5 L364.5,316.5 L364.5,327.5 L339.5,327.5Z" fill="#d2d3d5"/>
<path d="M373.7,311 L489.7,311 Q495.7,311 495.7,317 L495.7,334.6 Q495.7,340.6 489.7,340.6 L373.7,340.6 Q367.7,340.6 367.7,334.6 L367.7,317 Q367.7,311 373.7,311Z" fill="#d2d3d5"/>
<path d="M495.0,325.4 L527.2,325.4 L541.0,332.1 L541.0,338.4 L533.0,341.0 L495.0,341.0Z" fill="#a9abae"/>
<path d="M380.8,340.0 L384.6,340.0 L389.3,364.3 L415.0,360.3 L415.6,364.3 L386.0,368.6Z" fill="#a9abae"/>
<path d="M391.5,340.0 L404.4,340.0 L404.4,352.5 L391.5,352.5Z" fill="#a9abae"/>
<path d="M433.2,350.1 L439.2,356.6 L436.7,358.8 L433.7,357.1 L431.5,360.9 L437.3,364.2 L445.6,356.8 L436.4,347.1Z" fill="#c8c9cb"/>
<path d="M398.5,369.4 L447.0,369.4 L447.0,377.3 L398.5,377.3Z" fill="#a9abae"/>
<path d="M403.5,334.2a19.7,19.7 0 1,0 39.4,0a19.7,19.7 0 1,0 -39.4,0Z" fill="#d2d3d5"/>
<path d="M415.3,376 L415.3,360.5 Q415.3,353.3 422.3,353.3 Q429.2,353.3 429.2,360.5 L429.2,376Z" fill="#a9abae"/>
<path d="M416,373.3 L428.5,373.3 Q429.5,379 432.6,382 Q431,385 422.3,385 Q413.5,385 412,382 Q415,379 416,373.3Z" fill="#d2d3d5"/>
<path d="M336.0,310.5 L496.0,310.5 L496.0,314.0 L336.0,314.0Z" fill="#a9abae"/>
<clipPath id="nb"><rect x="367" y="314" width="130" height="26.6"/></clipPath>
<circle cx="423.2" cy="334.8" r="23.4" fill="#a9abae" clip-path="url(#nb)"/>
<circle cx="423.2" cy="334.2" r="19.7" fill="#d2d3d5"/>
<path d="M412.7,337.5 Q412.7,328.6 421.9,328.6 Q431.1,328.6 431.1,337.5 Q431.1,344 426.8,349 Q425.5,350.8 423.5,350.8 L420.3,350.8 Q418.3,350.8 417,349 Q412.7,344 412.7,337.5Z" fill="#231f20"/>
<circle cx="422" cy="341.8" r="4.9" fill="#a9abae"/>
<path d="M501.8,335.6 L507.5,335.6 L507.5,341.0 L501.8,341.0Z" fill="#d2d3d5"/>
<path d="M510.8,335.6 L516.5,335.6 L516.5,341.0 L510.8,341.0Z" fill="#d2d3d5"/>
<path d="M525.7,335.6 L531.6,335.6 L531.6,341.0 L525.7,341.0Z" fill="#d2d3d5"/>
<path d="M533.0,332.2 L541.0,332.2 L541.0,338.4 L533.0,338.4Z" fill="#d2d3d5"/>
<path d="M416,373.3 L428.5,373.3" stroke="#d2d3d5" stroke-width="1"/>
<path d="M250.0,284.0 L259.0,284.0 L259.0,311.3 L250.0,309.0Z M585.0,284.0 L594.0,284.6 L594.0,308.6 L585.0,311.3Z" fill="#a9abae"/>
<path d="M131.7,289.4 L147.0,289.4 L147.0,300.7 L131.7,300.7Z" fill="#a9abae"/>
<path d="M698.4,288.8 L711.0,288.8 L711.0,299.8 L698.4,299.8Z" fill="#a9abae"/>
<path d="M148.0,284.6 L256.0,284.6 L256.0,309.6 L146.4,309.6 L146.4,289.0Z" fill="#a9abae"/>
<path d="M588.0,284.6 L697.5,284.6 L701.0,292.5 L699.4,309.4 L588.0,309.4Z" fill="#a9abae"/>
<path d="M257.0,284.0 L587.5,284.0 L592.0,297.5 L588.0,311.3 L257.5,311.3 L253.8,307.4 L251.8,296.0Z" fill="#d2d3d5"/>
<path d="M253.0,297.8 L591.5,297.8 L589.7,305.8 L254.5,305.8Z" fill="#a9abae"/>
<path d="M256.5,284.0 L588.0,284.0 L588.0,285.3 L256.5,285.3Z" fill="#b4b6b9"/>
<path d="M149.3,285.8 L255.0,285.8 L248.7,293.5 L147.3,293.5Z" fill="#d3d4d6"/>
<path d="M147.3,295.1 L248.7,295.1 L248.7,307.4 L147.3,307.4Z" fill="#d3d4d6"/>
<path d="M589.5,285.8 L696.5,285.8 L700.2,293.5 L595.1,293.5Z" fill="#d3d4d6"/>
<path d="M595.1,295.1 L698.4,295.1 L698.4,307.4 L595.1,307.4Z" fill="#d3d4d6"/>
<path d="M461.8,295.3 L461.8,311 Q461.8,318.3 476.9,318.3 Q492,318.3 492,311 L492,295.3Z" fill="#d2d3d5" stroke="#a9abae" stroke-width="0.8"/>
<path d="M461.8,295.3a15.0,6.3 0 1,0 30.0,0a15.0,6.3 0 1,0 -30.0,0Z" fill="#a9abae"/>
</g>
<g font-size="41.2">
<text x="66" y="82.7" textLength="267" lengthAdjust="spacingAndGlyphs">САМОКУТЯЕВ</text>
<text x="380" y="82.7" textLength="196" lengthAdjust="spacingAndGlyphs">WILMORE</text>
<text x="624" y="82.7" textLength="168" lengthAdjust="spacingAndGlyphs">СЕРОВА</text>
</g><g font-size="41.7">
<text x="57.8" y="582.8" textLength="243" lengthAdjust="spacingAndGlyphs">ШКАПЛЕРОВ</text>
<text x="343" y="582.8" textLength="120" lengthAdjust="spacingAndGlyphs">VIRTS</text>
<text x="500" y="582.8" textLength="300" lengthAdjust="spacingAndGlyphs">CRISTOFORETTI</text>
</g>
</svg>
</body></html>
